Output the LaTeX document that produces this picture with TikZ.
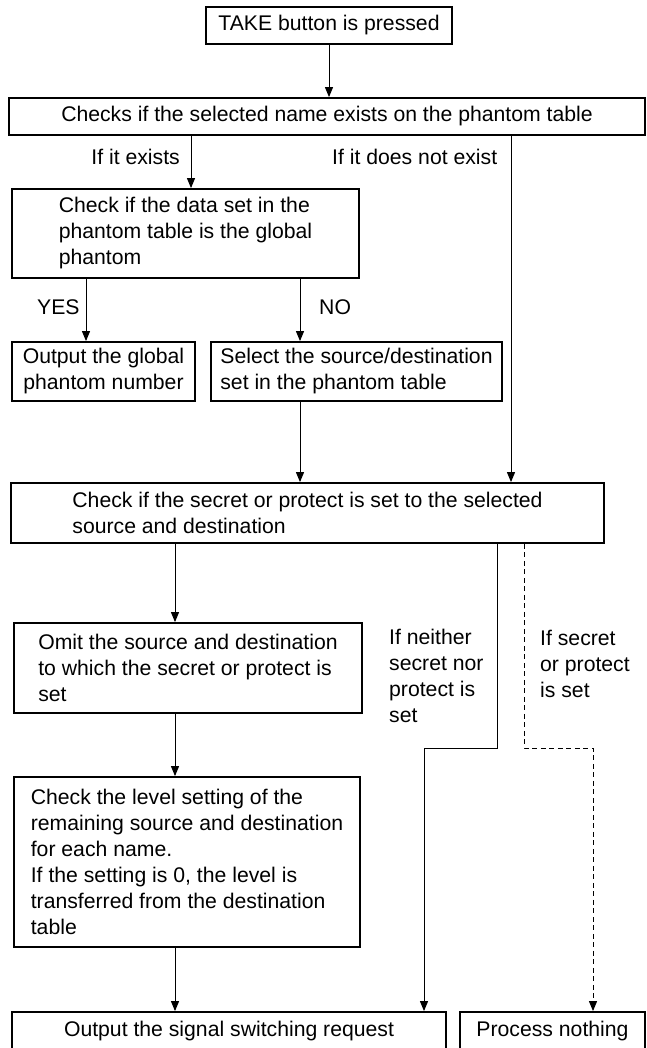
\documentclass[tikz,border=0pt]{standalone}
\usepackage{fontspec}
\setmainfont{Liberation Sans}
\usetikzlibrary{arrows.meta}
\begin{document}
\begin{tikzpicture}[x=1pt,y=-1pt,
  font=\fontsize{21.2}{26}\selectfont,
  box/.style={draw, line width=1.8pt, inner sep=0pt, align=left},
  cbox/.style={box, align=center},
  lbl/.style={inner sep=0pt, align=left},
  conn/.style={line width=1pt, -{Triangle[length=10pt,width=8pt]}},
  dashlink/.style={dash pattern=on 5pt off 3.5pt}]
\useasboundingbox (0,0) rectangle (646,1048);
% boxes
\node[cbox, minimum width=246, minimum height=37] (take) at (329,25.5) {TAKE button is pressed};
\node[cbox, minimum width=636, minimum height=37] (checks) at (327,116.5) {Checks if the selected name exists on the phantom table};
\node[box, minimum width=347, minimum height=89] (data) at (185.5,233.5) {Check if the data set in the\\phantom table is the global\\phantom};
\node[cbox, minimum width=183, minimum height=59] (glob) at (103.5,371.5) {Output the global\\phantom number};
\node[box, minimum width=291, minimum height=59] (sel) at (356.5,371.5) {Select the source/destination\\set in the phantom table};
\node[box, minimum width=593, minimum height=60] (sec) at (307.5,513) {Check if the secret or protect is set to the selected\\source and destination};
\node[box, minimum width=348, minimum height=90] (omit) at (188,668) {Omit the source and destination\\to which the secret or protect is\\set};
\node[box, minimum width=346, minimum height=170] (level) at (187,862) {Check the level setting of the\\remaining source and destination\\for each name.\\If the setting is 0, the level is\\transferred from the destination\\table};
\node[cbox, minimum width=434, minimum height=38] (out) at (229,1031) {Output the signal switching request};
\node[cbox, minimum width=185, minimum height=38] (none) at (552.5,1031) {Process nothing};
% labels
\node[lbl, anchor=east] (lE) at (180,157) {If it exists};
\node[lbl, anchor=west] (lN) at (332,157) {If it does not exist};
\node[lbl, anchor=west] (lY) at (37,307) {YES};
\node[lbl, anchor=west] (lNo) at (319,307) {NO};
\node[lbl, anchor=west] (lNei) at (389,676) {If neither\\secret nor\\protect is\\set};
\node[lbl, anchor=west] (lSec) at (540,663.5) {If secret\\or protect\\is set};
% connector columns
\coordinate (cE) at (191,0);
\coordinate (cN) at (511,0);
\coordinate (cY) at (86,0);
\coordinate (cNo) at (300,0);
\coordinate (cL) at (175,0);
\coordinate (sA) at (497,748);
\coordinate (sB) at (424,748);
\coordinate (dA) at (524,748);
\coordinate (dB) at (593,748);
% connectors
\draw[conn] (take.south) -- (take.south |- checks.north);
\draw[conn] (checks.south -| cE) -- (data.north -| cE);
\draw[conn] (checks.south -| cN) -- (sec.north -| cN);
\draw[conn] (data.south -| cY) -- (glob.north -| cY);
\draw[conn] (data.south -| cNo) -- (sel.north -| cNo);
\draw[conn] (sel.south -| cNo) -- (sec.north -| cNo);
\draw[conn] (sec.south -| cL) -- (omit.north -| cL);
\draw[conn] (omit.south -| cL) -- (level.north -| cL);
\draw[conn] (level.south -| cL) -- (out.north -| cL);
\draw[conn] (sec.south -| sA) -- (sA) -- (sB) -- (out.north -| sB);
\draw[conn, dashlink] (sec.south -| dA) -- (dA) -- (dB) -- (none.north -| dB);
\end{tikzpicture}
\end{document}
